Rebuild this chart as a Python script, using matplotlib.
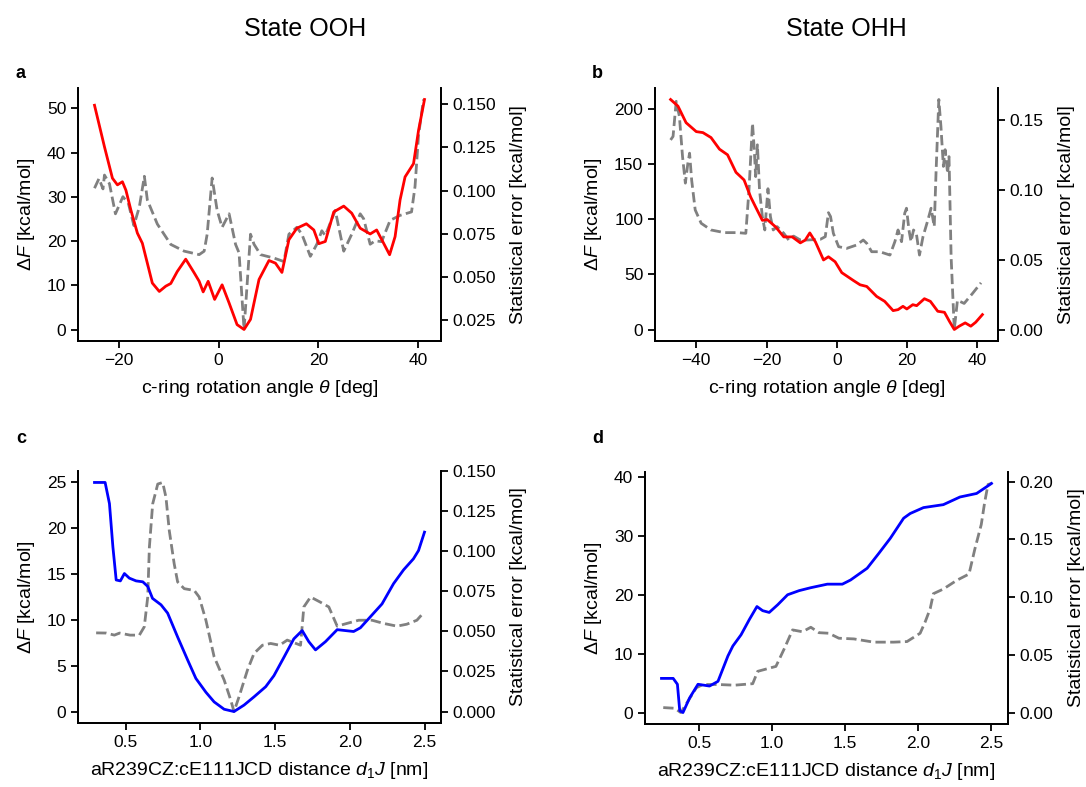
import matplotlib
matplotlib.use("Agg")
import matplotlib.pyplot as plt

plt.rcParams['font.family'] = ['Liberation Sans', 'DejaVu Sans']
plt.rcParams['mathtext.fontset'] = 'custom'
plt.rcParams['mathtext.rm'] = 'Liberation Sans'
plt.rcParams['mathtext.it'] = 'Liberation Sans:italic'
plt.rcParams['mathtext.bf'] = 'Liberation Sans:bold'
plt.rcParams['font.size'] = 12.5
plt.rcParams['axes.labelsize'] = 14
plt.rcParams['axes.linewidth'] = 1.3
plt.rcParams['xtick.major.width'] = 1.3
plt.rcParams['ytick.major.width'] = 1.3
plt.rcParams['xtick.major.size'] = 5
plt.rcParams['ytick.major.size'] = 5

# ---- Panel a: State OOH, rotation angle ----
a_theta_F = [-24.9, -22.9, -21.3, -20.3, -19.3, -18.6, -17.6, -16.3, -15.3, -14.3, -13.3, -11.9, -10.6,
             -9.6, -8.3, -6.6, -4.9, -3.9, -3.1, -2.1, -0.8, 0.7, 2.1, 3.7, 5.1, 6.4, 8.1, 10.1, 11.4,
             12.7, 14.1, 15.7, 17.6, 19.1, 20.1, 21.4, 23.1, 25.1, 26.7, 28.4, 30.4, 31.7, 33.1, 34.3,
             35.4, 36.4, 37.4, 39.1, 40.1, 41.3]
a_F = [50.7, 41.3, 34.2, 32.7, 33.4, 31.5, 27.0, 21.8, 19.5, 15.0, 10.5, 8.6, 9.8,
       10.4, 13.1, 15.9, 12.8, 10.9, 8.5, 10.9, 6.8, 10.1, 6.0, 1.1, 0.0, 2.3, 11.3, 15.6, 15.0,
       12.9, 20.3, 22.9, 23.9, 22.5, 19.4, 19.9, 26.6, 27.9, 26.3, 22.9, 21.6, 22.5, 19.5, 16.9,
       21.0, 29.3, 34.5, 37.5, 45.0, 52.0]
a_theta_err = [-24.9, -24.0, -23.2, -22.9, -21.9, -20.7, -19.2, -18.1, -17.0, -15.9, -14.9, -14.3, -12.3,
               -9.6, -6.9, -3.9, -2.9, -2.3, -1.3, -0.3, 0.7, 2.1, 3.4, 4.1, 5.1, 6.4, 7.1, 8.4, 11.1,
               13.1, 14.1, 15.7, 16.7, 18.4, 19.7, 20.7, 21.4, 23.4, 24.1, 25.1, 26.7, 28.4, 29.1, 30.4,
               31.4, 32.7, 34.4, 36.4, 38.7, 39.4, 40.1, 41.1]
a_err = [0.1014, 0.1070, 0.1010, 0.1090, 0.1040, 0.0866, 0.0965, 0.0926, 0.0798, 0.0906, 0.1083, 0.0946, 0.0807,
         0.0689, 0.0650, 0.0630, 0.0650, 0.0748, 0.1073, 0.0886, 0.0788, 0.0866, 0.0689, 0.0640, 0.0197, 0.0748, 0.0690, 0.0630, 0.0610,
         0.0590, 0.0748, 0.0788, 0.0748, 0.0620, 0.0690, 0.0768, 0.0740, 0.0886, 0.0788, 0.0650, 0.0748, 0.0866, 0.0837, 0.0690,
         0.0710, 0.0705, 0.0828, 0.0857, 0.0877, 0.1024, 0.1320, 0.1527]

# ---- Panel b: State OHH, rotation angle ----
b_theta_F = [-47.3, -45.2, -42.9, -40.0, -38.1, -35.8, -33.4, -31.1, -28.7, -26.4, -24.5, -23.1, -21.2,
             -19.8, -17.4, -15.1, -12.7, -10.4, -9.0, -7.7, -6.1, -3.8, -2.4, -0.5, 1.4, 4.7, 6.6, 8.5,
             11.3, 13.6, 16.0, 17.4, 18.8, 19.9, 21.6, 22.7, 24.9, 26.6, 28.7, 30.6, 32.0, 33.4, 34.8,
             36.5, 38.1, 39.5, 41.4]
b_F = [208.4, 202.4, 187.4, 179.3, 178.4, 173.9, 163.4, 158.3, 142.4, 135.5, 119.9, 110.9, 98.9,
       99.6, 92.9, 83.9, 83.9, 78.5, 81.0, 87.5, 79.4, 63.0, 65.9, 61.4, 51.5, 44.4, 40.5, 39.0,
       30.0, 25.5, 17.1, 18.0, 21.0, 18.6, 22.5, 21.6, 27.9, 25.5, 16.5, 15.6, 7.5, 0.0, 3.0,
       6.0, 3.0, 6.6, 13.5]
b_theta_err = [-47.3, -46.6, -45.7, -44.8, -43.9, -43.1, -42.4, -41.9, -41.3, -40.3, -38.6, -35.8, -32.0,
               -28.2, -25.9, -25.0, -24.0, -23.5, -23.1, -22.6, -22.0, -21.2, -20.5, -19.6, -18.9, -18.1,
               -17.0, -15.1, -13.7, -12.3, -10.4, -8.5, -4.7, -3.3, -2.4, -1.8, -1.0, 0.5, 2.8, 5.6, 7.5,
               8.5, 9.9, 12.2, 15.1, 16.5, 17.4, 18.4, 19.3, 19.8, 20.5, 21.1, 21.8, 22.6, 23.5, 24.5,
               25.9, 26.8, 27.7, 28.2, 29.0, 29.6, 30.3, 30.8, 31.5, 31.9, 32.5, 33.4, 34.3, 36.2, 38.6, 41.0]
b_err = [0.1360, 0.1385, 0.1637, 0.1530, 0.1240, 0.1050, 0.1190, 0.1265, 0.1070, 0.0858, 0.0762, 0.0714, 0.0695,
         0.0695, 0.0690, 0.1002, 0.1480, 0.1290, 0.1097, 0.1325, 0.1000, 0.0810, 0.0714, 0.1010, 0.0810, 0.0714,
         0.0738, 0.0690, 0.0642, 0.0670, 0.0642, 0.0642, 0.0647, 0.0666, 0.0838, 0.0810, 0.0690, 0.0594, 0.0582, 0.0606, 0.0642,
         0.0618, 0.0558, 0.0558, 0.0534, 0.0630, 0.0714, 0.0630, 0.0834, 0.0870, 0.0714, 0.0630, 0.0714, 0.0690, 0.0534, 0.0666,
         0.0786, 0.0870, 0.0738, 0.1120, 0.1650, 0.1457, 0.1170, 0.1290, 0.1120, 0.1240, 0.0520, 0.0000, 0.0210, 0.0187, 0.0259, 0.0335]

# ---- Panel c: State OOH, distance ----
c_d_F = [0.292, 0.363, 0.392, 0.415, 0.437, 0.465, 0.492, 0.525, 0.57, 0.615, 0.648, 0.68, 0.737, 0.781,
         0.848, 0.915, 0.97, 1.037, 1.092, 1.159, 1.225, 1.292, 1.359, 1.437, 1.492, 1.559, 1.625, 1.681,
         1.725, 1.77, 1.837, 1.915, 1.97, 2.025, 2.07, 2.137, 2.215, 2.292, 2.359, 2.425, 2.459, 2.499]
c_F = [24.9, 24.9, 22.6, 17.9, 14.3, 14.2, 15.0, 14.5, 14.2, 14.1, 13.6, 12.3, 11.6, 10.7,
       8.1, 5.6, 3.6, 2.1, 1.05, 0.25, 0.0, 0.7, 1.6, 2.7, 3.9, 5.9, 7.9, 8.8,
       7.6, 6.7, 7.6, 8.9, 8.8, 8.7, 9.1, 10.3, 11.7, 13.9, 15.4, 16.6, 17.5, 19.5]
c_d_err = [0.303, 0.37, 0.425, 0.46, 0.53, 0.592, 0.625, 0.648, 0.659, 0.681, 0.715, 0.748, 0.77, 0.792,
           0.825, 0.848, 0.892, 0.959, 0.992, 1.037, 1.092, 1.159, 1.203, 1.225, 1.259, 1.315, 1.359,
           1.415, 1.47, 1.53, 1.581, 1.67, 1.692, 1.737, 1.80, 1.859, 1.915, 1.98, 2.059, 2.148, 2.226,
           2.315, 2.38, 2.448, 2.492]
c_err = [0.0491, 0.0490, 0.0477, 0.0490, 0.0477, 0.0477, 0.0529, 0.0715, 0.1026, 0.1296, 0.1420, 0.1430, 0.1337, 0.1130,
         0.0922, 0.0809, 0.0767, 0.0756, 0.0715, 0.0570, 0.0342, 0.0197, 0.0072, 0.0000, 0.0093, 0.0259, 0.0363,
         0.0414, 0.0425, 0.0414, 0.0446, 0.0414, 0.0653, 0.0715, 0.0684, 0.0653, 0.0533, 0.0550, 0.0570, 0.0570, 0.0550,
         0.0533, 0.0545, 0.0570, 0.0616]

# ---- Panel d: State OHH, distance ----
d_d_F = [0.243, 0.323, 0.352, 0.368, 0.39, 0.436, 0.493, 0.572, 0.63, 0.698, 0.732, 0.788, 0.845, 0.897,
         0.936, 0.981, 1.039, 1.107, 1.186, 1.266, 1.379, 1.482, 1.538, 1.652, 1.731, 1.811, 1.902,
         1.947, 2.038, 2.174, 2.288, 2.402, 2.504]
d_F = [5.8, 5.8, 4.8, 0.3, 0.0, 2.5, 4.8, 4.5, 5.3, 9.6, 11.3, 13.2, 15.8, 18.0,
       17.3, 17.0, 18.3, 20.0, 20.7, 21.2, 21.8, 21.8, 22.5, 24.5, 27.0, 29.6, 33.0,
       33.8, 34.8, 35.3, 36.6, 37.2, 38.9]
d_d_err = [0.255, 0.334, 0.375, 0.425, 0.482, 0.527, 0.63, 0.743, 0.868, 0.902, 1.027, 1.086, 1.141, 1.209,
           1.266, 1.322, 1.39, 1.458, 1.561, 1.697, 1.834, 1.925, 2.015, 2.05, 2.084, 2.106, 2.174, 2.265,
           2.334, 2.35, 2.39, 2.434, 2.457, 2.48, 2.504]
d_err = [0.0043, 0.0037, 0.0000, 0.0100, 0.0215, 0.0243, 0.0243, 0.0237, 0.0250, 0.0357, 0.0400, 0.0558, 0.0716, 0.0700,
         0.0739, 0.0692, 0.0687, 0.0644, 0.0638, 0.0610, 0.0610, 0.0615, 0.0687, 0.0787, 0.0900, 0.1030, 0.1070, 0.1145,
         0.1190, 0.1200, 0.1417, 0.1630, 0.1820, 0.1976, 0.1985]

titles = ["State OOH", "State OHH"]
panel_letters = ["a", "b", "c", "d"]
xlabel_angle = r"c-ring rotation angle $\theta$ [deg]"
xlabel_dist = r"aR239CZ:cE111JCD distance $d_1J$ [nm]"
ylabel_left = r"$\mathit{\Delta F}$ [kcal/mol]"
ylabel_right = "Statistical error [kcal/mol]"

W, H = 1086, 787
fig = plt.figure(figsize=(W / 100, H / 100), dpi=100)


def box(l, t, r, b):
    return [l / W, 1 - b / H, (r - l) / W, (b - t) / H]


panels = [
    (box(78, 88, 441, 341), a_theta_F, a_F, a_theta_err, a_err, 'red', xlabel_angle),
    (box(655, 88, 998, 341), b_theta_F, b_F, b_theta_err, b_err, 'red', xlabel_angle),
    (box(78, 471, 441, 723), c_d_F, c_F, c_d_err, c_err, 'blue', xlabel_dist),
    (box(645, 472, 1008, 724), d_d_F, d_F, d_d_err, d_err, 'blue', xlabel_dist),
]

for pos, xf, yf, xe, ye, col, xl in panels:
    ax = fig.add_axes(pos)
    ax2 = ax.twinx()
    ax.plot(xf, yf, color=col, lw=2.0, zorder=3)
    ax2.plot(xe, ye, color='gray', lw=2.0, ls='--')
    ax.set_zorder(ax2.get_zorder() + 1)
    ax.patch.set_visible(False)
    for a_ in (ax, ax2):
        a_.spines['top'].set_visible(False)
    ax.set_xlabel(xl, labelpad=7)
    ax.set_ylabel(ylabel_left, labelpad=7)
    ax2.set_ylabel(ylabel_right, labelpad=10)

fig.text(305 / W, 1 - 36 / H, titles[0], fontsize=18, ha='center', va='baseline')
fig.text(846 / W, 1 - 36 / H, titles[1], fontsize=18, ha='center', va='baseline')

letter_pos = [(16, 78), (592, 78), (16, 443), (592, 443)]
for (lx, ly), letter in zip(letter_pos, panel_letters):
    fig.text(lx / W, 1 - ly / H, letter, fontsize=13, fontweight='bold', ha='left', va='baseline')

fig.savefig("out.png", dpi=100)
